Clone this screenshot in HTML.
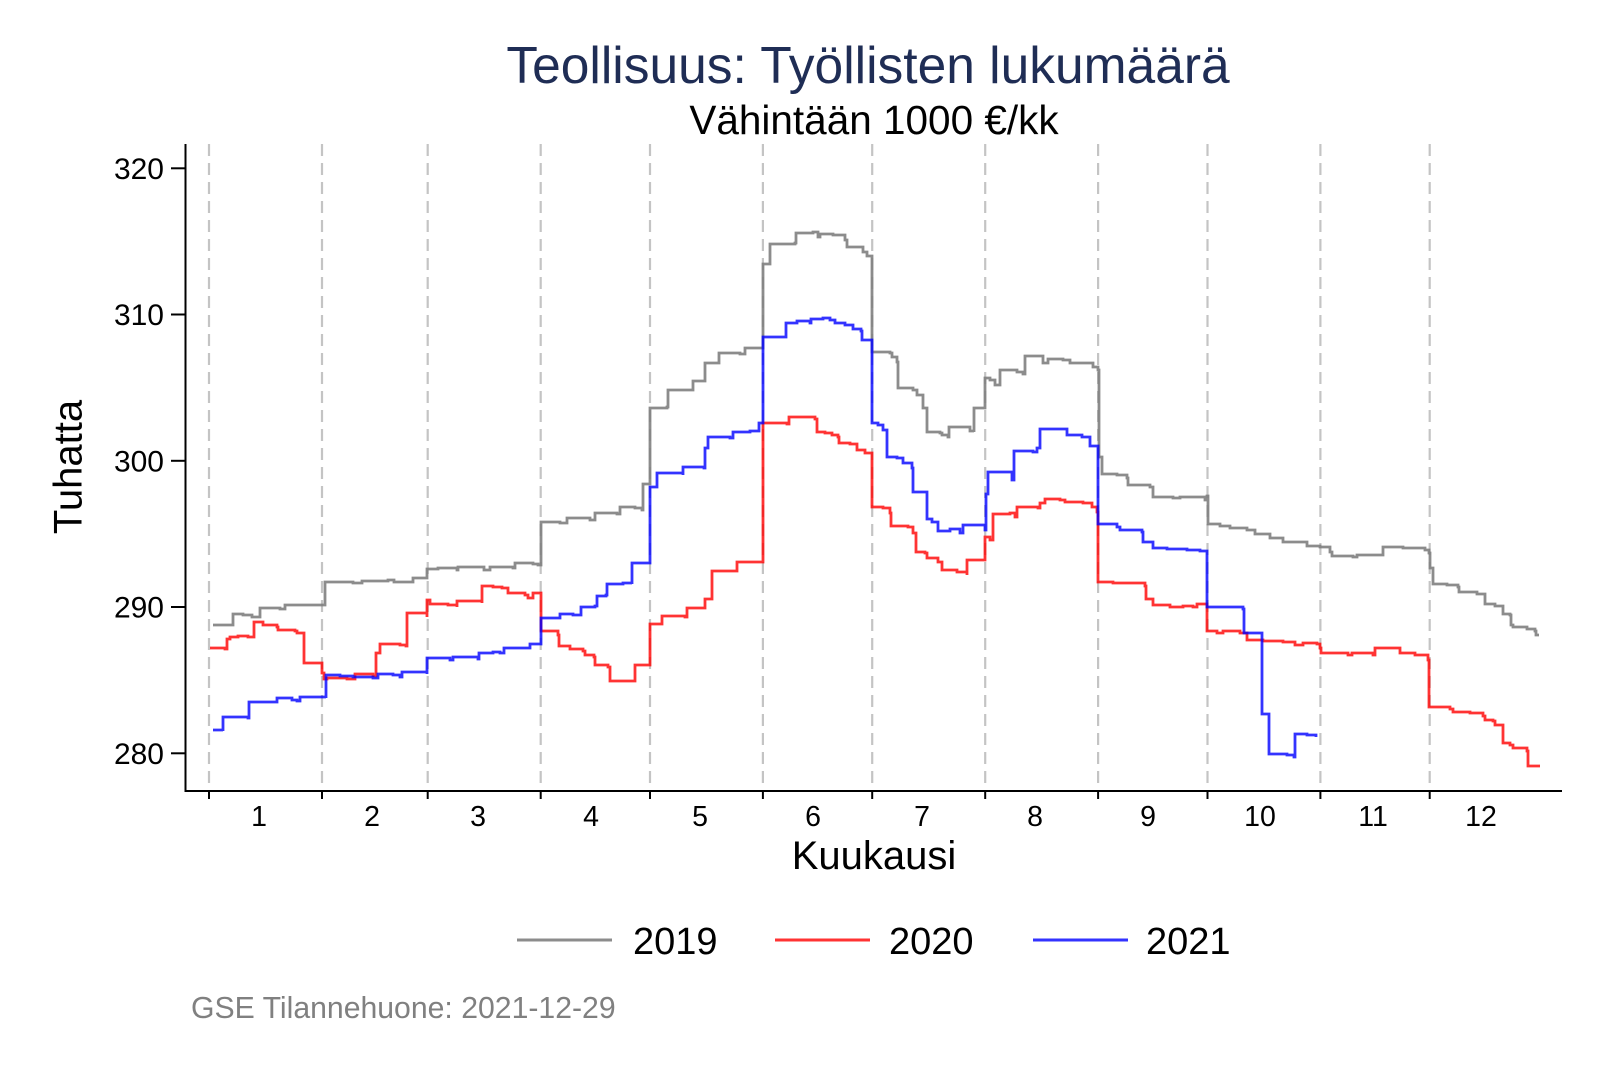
<!DOCTYPE html>
<html>
<head>
<meta charset="utf-8">
<style>
html,body{margin:0;padding:0;background:#fff;}
svg{display:block;}
text{font-family:"Liberation Sans",Arial,sans-serif;}
</style>
</head>
<body>
<svg width="1600" height="1067" viewBox="0 0 1600 1067" xmlns="http://www.w3.org/2000/svg">
<rect width="1600" height="1067" fill="#fff"/>

<!-- Titles -->
<text x="868" y="83" font-size="51.5" fill="#1f2d55" text-anchor="middle">Teollisuus: Työllisten lukumäärä</text>
<text x="874" y="134" font-size="40.5" fill="#000" text-anchor="middle">Vähintään 1000 €/kk</text>

<!-- Dashed month lines -->
<g stroke="#c4c4c4" stroke-width="2.2" stroke-dasharray="12 7" fill="none">
<line x1="209" y1="144" x2="209" y2="791"/>
<line x1="322" y1="144" x2="322" y2="791"/>
<line x1="427.7" y1="144" x2="427.7" y2="791"/>
<line x1="540.7" y1="144" x2="540.7" y2="791"/>
<line x1="650" y1="144" x2="650" y2="791"/>
<line x1="762.9" y1="144" x2="762.9" y2="791"/>
<line x1="872.2" y1="144" x2="872.2" y2="791"/>
<line x1="985.2" y1="144" x2="985.2" y2="791"/>
<line x1="1098.1" y1="144" x2="1098.1" y2="791"/>
<line x1="1207.5" y1="144" x2="1207.5" y2="791"/>
<line x1="1320.4" y1="144" x2="1320.4" y2="791"/>
<line x1="1429.7" y1="144" x2="1429.7" y2="791"/>
</g>

<!-- Axes -->
<g stroke="#000" stroke-width="2" fill="none">
<line x1="185.5" y1="144" x2="185.5" y2="792"/>
<line x1="184.5" y1="791" x2="1562" y2="791"/>
<line x1="171" y1="168.3" x2="185.5" y2="168.3"/>
<line x1="171" y1="314.5" x2="185.5" y2="314.5"/>
<line x1="171" y1="460.8" x2="185.5" y2="460.8"/>
<line x1="171" y1="607" x2="185.5" y2="607"/>
<line x1="171" y1="753.3" x2="185.5" y2="753.3"/>
<line x1="209" y1="791" x2="209" y2="799"/>
<line x1="322" y1="791" x2="322" y2="799"/>
<line x1="427.7" y1="791" x2="427.7" y2="799"/>
<line x1="540.7" y1="791" x2="540.7" y2="799"/>
<line x1="650" y1="791" x2="650" y2="799"/>
<line x1="762.9" y1="791" x2="762.9" y2="799"/>
<line x1="872.2" y1="791" x2="872.2" y2="799"/>
<line x1="985.2" y1="791" x2="985.2" y2="799"/>
<line x1="1098.1" y1="791" x2="1098.1" y2="799"/>
<line x1="1207.5" y1="791" x2="1207.5" y2="799"/>
<line x1="1320.4" y1="791" x2="1320.4" y2="799"/>
<line x1="1429.7" y1="791" x2="1429.7" y2="799"/>
</g>

<!-- Y tick labels -->
<g font-size="30" fill="#000" text-anchor="end">
<text x="164" y="179">320</text>
<text x="164" y="325.2">310</text>
<text x="164" y="471.5">300</text>
<text x="164" y="617.7">290</text>
<text x="164" y="764">280</text>
</g>

<!-- X tick labels -->
<g font-size="28.5" fill="#000" text-anchor="middle">
<text x="259" y="826">1</text>
<text x="372" y="826">2</text>
<text x="478" y="826">3</text>
<text x="591" y="826">4</text>
<text x="700" y="826">5</text>
<text x="813" y="826">6</text>
<text x="922" y="826">7</text>
<text x="1035" y="826">8</text>
<text x="1148" y="826">9</text>
<text x="1260" y="826">10</text>
<text x="1373" y="826">11</text>
<text x="1481" y="826">12</text>
</g>

<!-- Axis titles -->
<text x="874" y="869" font-size="40" fill="#000" text-anchor="middle">Kuukausi</text>
<text transform="translate(81.5,467) rotate(-90)" font-size="40" fill="#000" text-anchor="middle">Tuhatta</text>

<!-- Series -->
<g fill="none" stroke-width="2.8" stroke-linejoin="miter" stroke-linecap="butt">
<path stroke="#808080" stroke-opacity="0.9" d="M213,625 H233 V614 H243 V615 H252 V617 H260 V608 H280 V609 H285 V605 H325 V582 H353 V583 H362 V581 H388 V580 H394 V582 H413 V578 H427 V569 H438 V568 H457 V570 H458 V567 H484 V570 H490 V567 H513 V568 H515 V563 H533 V564 H538 V565 H541 V522 H560 V523 H567 V518 H590 V520 H595 V513 H617 V514 H620 V507 H635 V508 H642 V510 H643 V484 H650 V408 H667 V407 H668 V390 H693 V381 H705 V363 H719 V353 H740 V354 H745 V348 H763 V264 H770 V244 H795 V243 H796 V233 H813 V232 H818 V237 H820 V234 H833 V235 H845 V240 H847 V247 H863 V252 H867 V256 H872 V352 H890 V353 H892 V357 H897 V362 H898 V388 H913 V390 H917 V395 H923 V397 V408 H927 V409 V432 H940 V433 H942 V435 H948 V437 H949 V427 H967 V427 H970 V431 H974 V432 V408 H985 V378 H990 V380 H995 V385 H1000 V370 H1017 V372 H1023 V374 H1025 V356 H1040 V356 H1043 V363 H1048 V359 H1063 V360 H1070 V363 H1093 V367 H1098 V370 H1099 V457 H1102 V474 H1117 V475 H1127 V478 H1128 V485 H1150 V487 H1153 V497 H1173 V498 H1180 V497 H1205 V500 H1207 V496 H1208 V524 H1220 V526 H1230 V528 H1247 V530 H1255 V534 H1270 V538 H1283 V542 H1297 V542 H1307 V546 H1320 V547 H1330 V552 H1332 V556 H1353 V557 H1357 V555 H1382 V555 H1383 V547 H1403 V548 H1425 V550 H1429 V553 H1430 V568 H1433 V584 H1447 V585 H1458 V587 H1459 V592 H1477 V594 H1485 V597 V604 H1495 V606 H1503 V608 V614 H1510 V615 H1511 V625 H1513 V627 H1527 V629 H1535 V631 H1536 V635 H1539"/>
<path stroke="#ff0000" stroke-opacity="0.8" d="M210,648 H225 V649 H227 V639 H230 V637 H238 V636 H248 V637 H254 V622 H262 V622 H263 V625 H277 V627 H278 V630 H295 V631 H297 V633 H304 V663 H320 V663 H322 V673 H324 V679 H327 V678 H347 V679 H353 V679 H355 V674 H373 V676 H376 V653 H380 V644 H400 V645 H406 V646 H407 V613 H420 V613 H427 V617 V600 H430 V604 H448 V605 H457 V607 V601 H473 V601 H482 V603 V586 H493 V587 H502 V588 H508 V593 H525 V595 H528 V598 H533 V593 H541 V631 H558 V635 H559 V646 H570 V649 H583 V651 H585 V655 H594 V657 H595 V665 H608 V667 H610 V681 H635 V665 H650 V624 H660 V624 H662 V616 H685 V617 H687 V608 H704 V608 H705 V599 H712 V571 H737 V562 H753 V562 H763 V423 H787 V424 H789 V417 H805 V417 H815 V419 H817 V432 H825 V433 H832 V435 H838 V437 H839 V443 H850 V444 H857 V450 H865 V453 H872 V507 H883 V508 H890 V513 H891 V526 H908 V527 H913 V533 H916 V552 H925 V553 H927 V558 H938 V562 H942 V570 H957 V572 H967 V575 V560 H985 V537 H990 V540 H993 V514 H1010 V513 H1015 V517 H1017 V507 H1038 V508 H1040 V503 H1045 V499 H1060 V500 H1065 V502 H1083 V503 H1092 V507 H1097 V512 H1098 V582 H1113 V583 H1145 V586 H1146 V599 H1153 V605 H1170 V607 H1183 V606 H1193 V607 H1197 V604 H1207 V631 H1217 V633 H1223 V631 H1240 V633 H1247 V634 V640 H1263 V641 H1283 V642 H1295 V645 H1303 V643 H1317 V644 H1320 V648 H1321 V653 H1337 V653 H1348 V655 H1352 V653 H1373 V655 H1375 V648 H1390 V648 H1400 V653 H1415 V655 H1428 V660 H1429 V707 H1450 V709 H1453 V712 H1470 V713 H1483 V716 H1485 V720 H1493 V721 H1495 V725 H1503 V743 H1510 V745 H1513 V748 H1527 V751 H1528 V766 H1540"/>
<path stroke="#0000ff" stroke-opacity="0.8" d="M213,730 H223 V731 V717 H248 V718 H249 V702 H267 V702 H277 V698 H292 V700 H297 V701 H300 V697 H320 V697 H326 V698 V675 H340 V676 H353 V677 H370 V677 H373 V678 H378 V674 H393 V675 H400 V677 H402 V672 H413 V672 H427 V674 V658 H443 V658 H450 V660 H453 V657 H473 V657 H478 V659 H479 V653 H493 V652 H500 V653 H504 V648 H527 V648 H530 V644 H541 V643 V618 H553 V618 H560 V614 H573 V615 H581 V607 H595 V606 H597 V596 H606 V595 H607 V584 H623 V583 H632 V584 V563 H650 V487 H657 V486 V473 H670 V473 H683 V475 V467 H704 V468 H705 V448 H708 V437 H730 V438 H733 V432 H750 V431 H759 V423 H763 V422 V337 H785 V337 H786 V323 H797 V321 H810 V323 H811 V319 H823 V318 H830 V320 H835 V323 H845 V325 H853 V329 H861 V331 H862 V340 H872 V341 V423 H878 V425 H883 V430 H887 V435 V457 H897 V458 H903 V463 H912 V468 H913 V492 H927 V493 V519 H932 V522 H938 V525 V531 H950 V529 H960 V533 H963 V525 H980 V525 H985 V530 H986 V494 H988 V472 H1007 V472 H1012 V480 H1014 V451 H1033 V452 H1037 V448 H1040 V429 H1057 V429 H1067 V435 H1082 V437 H1090 V441 V446 H1098 V447 V524 H1117 V527 H1120 V530 H1142 V532 H1143 V542 H1153 V543 V548 H1167 V549 H1187 V550 H1200 V551 H1207 V552 V607 H1227 V607 H1243 V609 H1244 V633 H1262 V634 V714 H1269 V715 V754 H1287 V755 H1294 V757 H1295 V734 H1307 V735 H1316 V737"/>
</g>

<!-- Legend -->
<g stroke-width="3">
<line x1="517" y1="940" x2="612" y2="940" stroke="#808080" stroke-opacity="0.9"/>
<line x1="775" y1="940" x2="870" y2="940" stroke="#ff0000" stroke-opacity="0.8"/>
<line x1="1033" y1="940" x2="1128" y2="940" stroke="#0000ff" stroke-opacity="0.8"/>
</g>
<g font-size="38" fill="#000">
<text x="633" y="954">2019</text>
<text x="889" y="954">2020</text>
<text x="1146" y="954">2021</text>
</g>

<!-- Caption -->
<text x="191" y="1018" font-size="30.2" fill="#808080">GSE Tilannehuone: 2021-12-29</text>
</svg>
</body>
</html>
